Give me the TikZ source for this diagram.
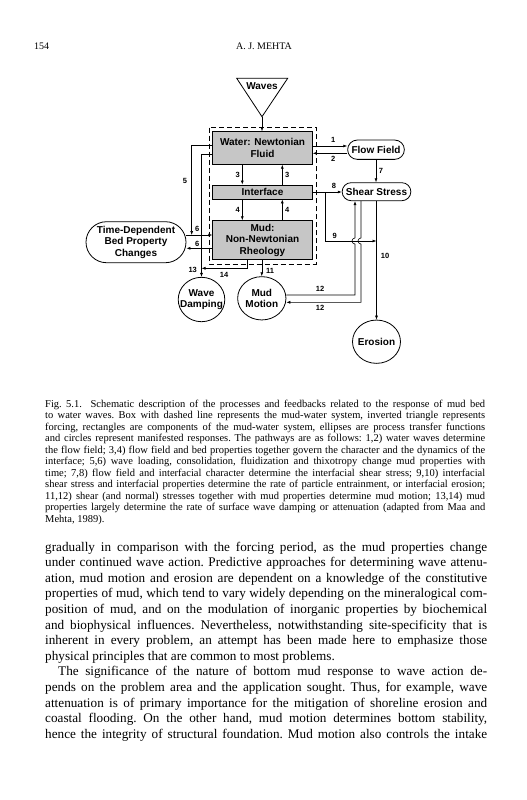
\documentclass[tikz,border=0pt]{standalone}
\usepackage{fontspec}
\setmainfont{Liberation Serif}
\newfontfamily\dsans{Liberation Sans}
\usetikzlibrary{arrows.meta,shapes.geometric}
\tikzset{
  dfont/.style={font=\dsans\bfseries\fontsize{10}{11.5}\selectfont},
  box/.style={draw, line width=0.8pt, fill=gray!45, minimum width=99.6pt, inner sep=0pt, align=center, dfont},
  term/.style={draw, line width=0.8pt, rounded corners=#1, inner sep=0pt, align=center, dfont},
  circ/.style={draw, ellipse, line width=0.8pt, inner sep=0pt},
  lbl/.style={inner sep=0pt, align=center, dfont},
  arr/.style={line width=0.6pt, -{Latex[length=4pt,width=3pt]}},
  num/.style={inner sep=0pt, font=\dsans\bfseries\fontsize{7.5}{8}\selectfont},
  captxt/.style={anchor=base west, inner sep=0pt, font=\frenchspacing\fontsize{10.5}{11}\selectfont},
  bodytxt/.style={anchor=base west, inner sep=0pt, font=\frenchspacing\fontsize{13.2}{14}\selectfont},
}
\newcommand{\capline}[3]{\node[captxt] (#1) at (45,#2) {\makebox[440pt][s]{#3}};}
\newcommand{\bodyline}[3]{\node[bodytxt] (#1) at (45,#2) {\makebox[442pt][s]{#3}};}
\begin{document}
\begin{tikzpicture}[x=1pt,y=-1pt]
\useasboundingbox[fill=white] (0,0) rectangle (527,800);

% header
\node[anchor=base west, inner sep=0pt, font=\fontsize{10}{11}\selectfont] (pg) at (34,50) {154};
\node[anchor=base, inner sep=0pt, font=\fontsize{10}{11}\selectfont] (hd) at (264,50) {A. J. MEHTA};

% waves triangle
\coordinate (wtl) at (236.7,78.3);
\coordinate (wtr) at (287.7,78.3);
\coordinate (wapex) at (262,116.7);
\draw[line width=0.8pt] (wtl) -- (wtr) -- (wapex) -- cycle;
\node[lbl] (wt) at (262,86) {Waves};

% dashed system box
\draw[line width=0.8pt, dash pattern=on 5pt off 3pt] (209,127.7) rectangle (316,264);

% components
\node[box, minimum height=32.6pt] (water) at (262.5,148) {Water: Newtonian\\Fluid};
\node[box, minimum height=14pt] (intf) at (262.5,192) {Interface};
\node[box, minimum height=38.6pt] (mud) at (262.5,240) {Mud:\\Non-Newtonian\\Rheology};

\node[term=9.6pt, minimum width=56.7pt, minimum height=19.3pt] (ff) at (376,149.7) {Flow Field};
\node[term=9pt, minimum width=68.7pt, minimum height=18pt] (ss) at (376.5,191.7) {Shear Stress};
\node[term=20.5pt, minimum width=100pt, minimum height=41pt] (tdb) at (136,242.2) {Time-Dependent\\Bed Property\\Changes};

\node[circ, minimum width=46.6pt, minimum height=44.4pt] (wd) at (201.5,299.5) {};
\node[lbl] (wdt) at (wd) {Wave\\Damping};
\node[circ, minimum width=48.3pt, minimum height=43.3pt] (mm) at (261.8,298.3) {};
\node[lbl] (mmt) at (mm) {Mud\\Motion};
\node[circ, minimum width=48pt, minimum height=43.3pt] (er) at (376.5,341.7) {};
\node[lbl] (ert) at (er) {Erosion};

% connectors
\draw[arr] (wapex) -- (wapex |- water.north);
\draw[arr] (water.east |- 0,146) -- (ff.west |- 0,146);
\draw[arr] (ff.west |- 0,153.3) -- (water.east |- 0,153.3);
\draw[arr] (ff.south) -- (ff.south |- ss.north);
\draw[arr] (intf.east) -- (ss.west |- intf.east);
\coordinate (j9) at (325.7,192);
\coordinate (c10) at (376.5,241);
\draw[arr] (j9) |- (c10);
\draw[arr] (ss.south) -- (er.north);

\draw[arr] (mm.east |- 0,295) -- (355,295) -- (355,244) arc[start angle=-90, end angle=-270, radius=3pt] -- (355,0 |- ss.south);
\draw[arr] (361,0 |- ss.south) -- (361,238) arc[start angle=90, end angle=270, radius=3pt] -- (361,302.3) -- (mm.east |- 0,302.3);

\draw[arr] (242.3,0 |- water.south) -- (242.3,0 |- intf.north);
\draw[arr] (282.3,0 |- intf.north) -- (282.3,0 |- water.south);
\draw[arr] (242.3,0 |- intf.south) -- (242.3,0 |- mud.north);
\draw[arr] (282.3,0 |- mud.north) -- (282.3,0 |- intf.south);

\coordinate (c6) at (191.7,235);
\draw[arr] (water.west |- 0,145.7) -- (191.7,145.7) -- (c6);
\draw[arr] (tdb.east |- 0,235) -- (mud.west |- 0,235);
\draw[arr] (mud.west |- 0,248.3) -- (tdb.east |- 0,248.3);
\draw[arr] (water.west |- 0,154.3) -- (201.5,154.3) -- (wd.north);
\coordinate (c13) at (201.5,268.3);
\draw[arr] (247.7,0 |- mud.south) -- (247.7,268.3) -- (c13);
\draw[arr] (mm.north |- mud.south) -- (mm.north);

% pathway numbers
\node[num] (n1) at (333.3,140) {1};
\node[num] (n2) at (333.3,159) {2};
\node[num] (n3a) at (237.7,175) {3};
\node[num] (n3b) at (287.3,175) {3};
\node[num] (n4a) at (237.7,210) {4};
\node[num] (n4b) at (287.3,210) {4};
\node[num] (n5) at (185,180.7) {5};
\node[num] (n6a) at (197.3,229) {6};
\node[num] (n6b) at (197.3,244) {6};
\node[num] (n7) at (381,171) {7};
\node[num] (n8) at (334,186) {8};
\node[num] (n9) at (334.7,235.7) {9};
\node[num] (n10) at (385,256) {10};
\node[num] (n11) at (270,270.7) {11};
\node[num] (n12a) at (320,289.3) {12};
\node[num] (n12b) at (320,308.3) {12};
\node[num] (n13) at (192.7,270) {13};
\node[num] (n14) at (224,275) {14};

% caption
\capline{c1}{407}{Fig. 5.1.\ \ Schematic description of the processes and feedbacks related to the response of mud bed}
\capline{c2}{418.5}{to water waves. Box with dashed line represents the mud-water system, inverted triangle represents}
\capline{c3}{430}{forcing, rectangles are components of the mud-water system, ellipses are process transfer functions}
\capline{c4}{441.5}{and circles represent manifested responses. The pathways are as follows: 1,2) water waves determine}
\capline{c5}{453}{the flow field; 3,4) flow field and bed properties together govern the character and the dynamics of the}
\capline{c6}{464.5}{interface; 5,6) wave loading, consolidation, fluidization and thixotropy change mud properties with}
\capline{c7}{476}{time; 7,8) flow field and interfacial character determine the interfacial shear stress; 9,10) interfacial}
\capline{c8}{487.5}{shear stress and interfacial properties determine the rate of particle entrainment, or interfacial erosion;}
\capline{c9}{499}{11,12) shear (and normal) stresses together with mud properties determine mud motion; 13,14) mud}
\capline{c10}{510.5}{properties largely determine the rate of surface wave damping or attenuation (adapted from Maa and}
\node[captxt] (c11) at (45,522) {Mehta, 1989).};

% body text
\bodyline{b1}{551}{gradually in comparison with the forcing period, as the mud properties change}
\bodyline{b2}{566.6}{under continued wave action. Predictive approaches for determining wave attenu-}
\bodyline{b3}{582.2}{ation, mud motion and erosion are dependent on a knowledge of the constitutive}
\bodyline{b4}{597.8}{properties of mud, which tend to vary widely depending on the mineralogical com-}
\bodyline{b5}{613.4}{position of mud, and on the modulation of inorganic properties by biochemical}
\bodyline{b6}{629}{and biophysical influences. Nevertheless, notwithstanding site-specificity that is}
\bodyline{b7}{644.6}{inherent in every problem, an attempt has been made here to emphasize those}
\node[bodytxt] (b8) at (45,660.2) {physical principles that are common to most problems.};
\node[bodytxt] (b9) at (58,675.8) {\makebox[429pt][s]{The significance of the nature of bottom mud response to wave action de-}};
\bodyline{b10}{691.4}{pends on the problem area and the application sought. Thus, for example, wave}
\bodyline{b11}{707}{attenuation is of primary importance for the mitigation of shoreline erosion and}
\bodyline{b12}{722.6}{coastal flooding. On the other hand, mud motion determines bottom stability,}
\bodyline{b13}{738.2}{hence the integrity of structural foundation. Mud motion also controls the intake}
\end{tikzpicture}
\end{document}
